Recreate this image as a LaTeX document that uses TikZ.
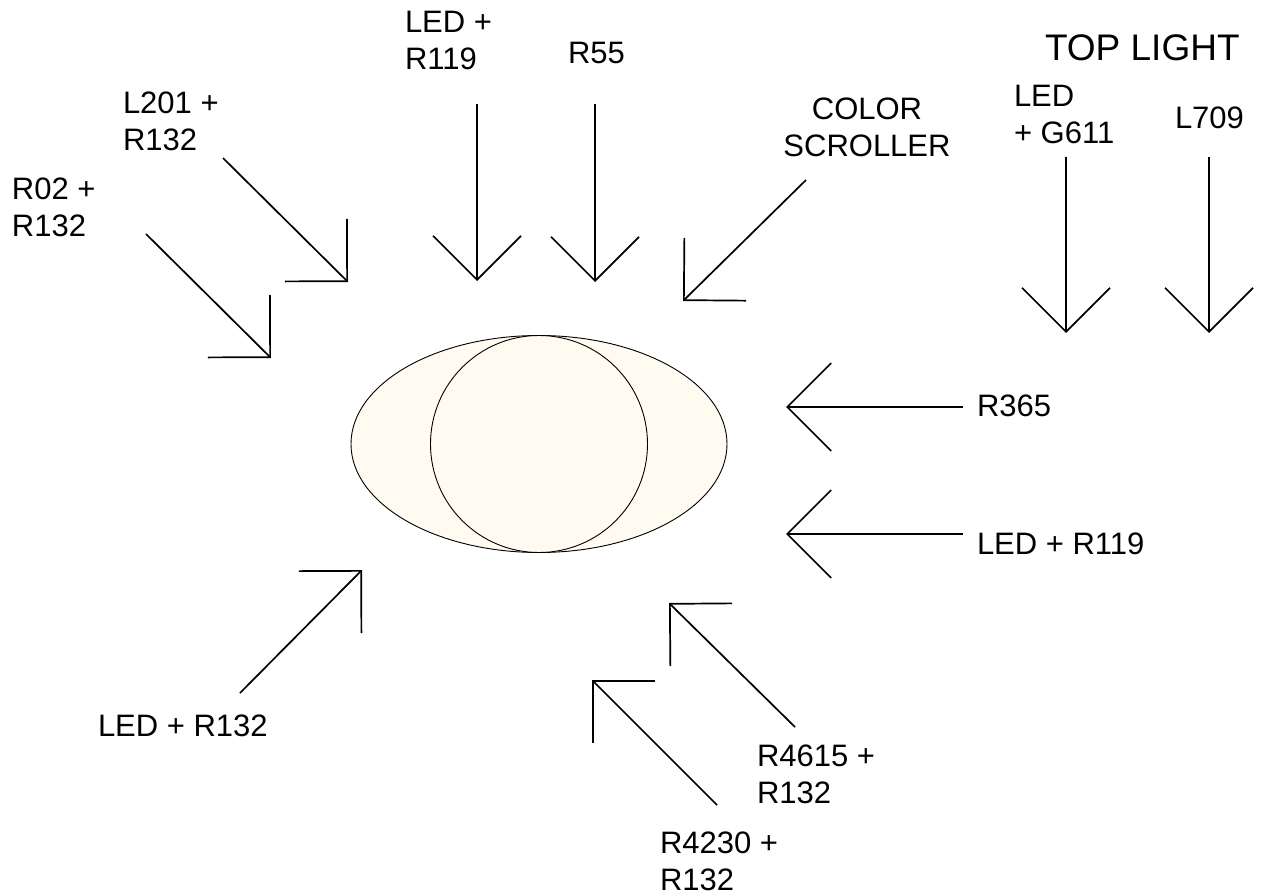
\documentclass[tikz,border=0pt]{standalone}
\usepackage{fontspec}
\setmainfont{Liberation Sans}
\usetikzlibrary{arrows.meta}
\usetikzlibrary{shapes.geometric}
\usetikzlibrary{positioning}
\definecolor{stagefill}{RGB}{255,251,240}
\tikzset{x=1pt, y=-1pt, font=\fontsize{31}{37}\selectfont}
\tikzstyle{gel} = [inner sep=0pt, outer sep=0pt, align=left, anchor=north west]
\tikzstyle{beam} = [draw, line width=1.7pt, -{Straight Barb[length=44pt, width=88pt]}]
\tikzstyle{stage} = [draw, line width=0.9pt, fill=stagefill, inner sep=0pt]

\begin{document}
\begin{tikzpicture}
    \useasboundingbox (0,0) rectangle (1267,894);

    % stage and spot
    \node [stage, ellipse, minimum width=376pt, minimum height=217pt] (stage) at (539,444) {};
    \node [stage, circle, minimum size=217pt] (spot) at (539,444) {};

    % labels
    \node [gel] (r02) at (12,178) {R02 +\\R132};
    \node [gel] (l201) at (123,92) {L201 +\\R132};
    \node [gel] (led_r119_top) at (405,11) {LED +\\R119};
    \node [gel] (r55) at (568,42) {R55};
    \node [gel, align=center, anchor=north] (scroller) at (867,98) {COLOR\\SCROLLER};
    \node [gel, font=\fontsize{37}{44}\selectfont] (top_light) at (1045,35) {TOP LIGHT};
    \node [gel] (led_g611) at (1014,85) {LED\\+ G611};
    \node [gel] (l709) at (1175,107) {L709};
    \node [gel] (r365) at (977,395) {R365};
    \node [gel] (led_r119_side) at (977,533) {LED + R119};
    \node [gel] (led_r132) at (98,715) {LED + R132};
    \node [gel] (r4615) at (757,745) {R4615 +\\R132};
    \node [gel] (r4230) at (660,832) {R4230 +\\R132};

    % beam ends
    \coordinate (r02_from) at (146,234);
    \coordinate (r02_to) at (271,358);
    \coordinate (l201_from) at (223,158);
    \coordinate (l201_to) at (348,282);
    \coordinate (led_r119_top_from) at (477,104);
    \coordinate (led_r119_top_to) at (477,281);
    \coordinate (r55_from) at (595,104);
    \coordinate (r55_to) at (595,282);
    \coordinate (scroller_from) at (806,180);
    \coordinate (scroller_to) at (683,301);
    \coordinate (led_g611_from) at (1066,157);
    \coordinate (led_g611_to) at (1066,333);
    \coordinate (l709_from) at (1209,157);
    \coordinate (l709_to) at (1209,333);
    \coordinate (r365_from) at (963,407);
    \coordinate (r365_to) at (786,407);
    \coordinate (led_r119_side_from) at (963,534);
    \coordinate (led_r119_side_to) at (786,534);
    \coordinate (led_r132_from) at (240,693);
    \coordinate (led_r132_to) at (362,570);
    \coordinate (r4615_from) at (795,727);
    \coordinate (r4615_to) at (669,603);
    \coordinate (r4230_from) at (717,805);
    \coordinate (r4230_to) at (592,680);

    \draw [beam] (r02_from) -- (r02_to);
    \draw [beam] (l201_from) -- (l201_to);
    \draw [beam] (led_r119_top_from) -- (led_r119_top_to);
    \draw [beam] (r55_from) -- (r55_to);
    \draw [beam] (scroller_from) -- (scroller_to);
    \draw [beam] (led_g611_from) -- (led_g611_to);
    \draw [beam] (l709_from) -- (l709_to);
    \draw [beam] (r365_from) -- (r365_to);
    \draw [beam] (led_r119_side_from) -- (led_r119_side_to);
    \draw [beam] (led_r132_from) -- (led_r132_to);
    \draw [beam] (r4615_from) -- (r4615_to);
    \draw [beam] (r4230_from) -- (r4230_to);
\end{tikzpicture}
\end{document}
